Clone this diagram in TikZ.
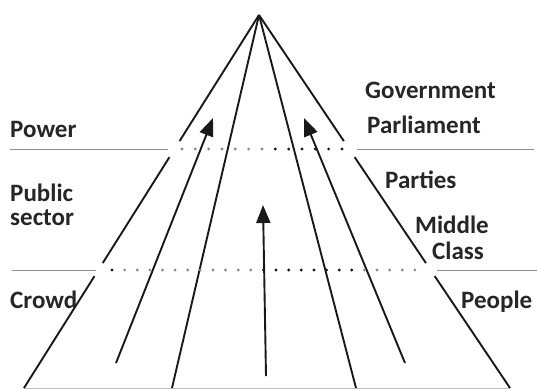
\documentclass[tikz,border=0pt]{standalone}
\usepackage{fontspec}
\setmainfont{Carlito}
\usetikzlibrary{arrows.meta,calc}

\begin{document}
\begin{tikzpicture}[x=1pt,y=-1pt,
  stroke/.style={line width=1.9pt,black!90},
  uparrow/.style={stroke,-{Triangle[length=18pt,width=14pt]}},
  levelrule/.style={line width=0.9pt,black!45},
  baserule/.style={line width=0.9pt,black!25},
  label/.style={font=\bfseries\fontsize{25}{30}\selectfont,text=black!85,
                inner sep=0pt,anchor=base west},
  dotlight/.style={fill=black!45},
  dotdark/.style={fill=black!90}]

  \useasboundingbox (0,0) rectangle (537,389);

  % pyramid frame
  \coordinate (apex) at (259,15);
  \coordinate (bl) at (24,388);
  \coordinate (br) at (510,388);
  \coordinate (il) at (172,388);
  \coordinate (ir) at (356,388);

  % base line
  \draw[baserule] (bl) -- (br);

  % outer edges, broken where the level lines cross
  \draw[stroke] (apex) -- ($(apex)!0.338!(bl)$);
  \draw[stroke] ($(apex)!0.381!(bl)$) -- ($(apex)!0.665!(bl)$);
  \draw[stroke] ($(apex)!0.700!(bl)$) -- (bl);
  \draw[stroke] (apex) -- ($(apex)!0.338!(br)$);
  \draw[stroke] ($(apex)!0.381!(br)$) -- ($(apex)!0.665!(br)$);
  \draw[stroke] ($(apex)!0.700!(br)$) -- (br);

  % inner edges
  \draw[stroke] (apex) -- (il);
  \draw[stroke] (apex) -- (ir);

  % rising arrows
  \coordinate (a1s) at (116,363);
  \coordinate (a1e) at (213,118);
  \coordinate (a2s) at (405,363);
  \coordinate (a2e) at (304,118);
  \coordinate (a3s) at (266,376);
  \coordinate (a3e) at (263,205);
  \draw[uparrow] (a1s) -- (a1e);
  \draw[uparrow] (a2s) -- (a2e);
  \draw[uparrow] (a3s) -- (a3e);

  % upper level line
  \coordinate (u1) at (10,149);
  \coordinate (u2) at (168,149);
  \coordinate (u3) at (357,149);
  \coordinate (u4) at (534,149);
  \draw[levelrule] (u1) -- (u2);
  \draw[levelrule] (u3) -- (u4);
  \foreach \i in {0,...,12}{
    \pgfmathsetmacro{\dx}{182+\i*13.33}
    \ifnum\i<7
      \fill[dotlight] (\dx,149) circle (1.6);
    \else
      \fill[dotdark] (\dx,149) circle (1.6);
    \fi
  }

  % lower level line
  \coordinate (l1) at (12,270);
  \coordinate (l2) at (96,270);
  \coordinate (l3) at (437,270);
  \coordinate (l4) at (537,270);
  \draw[levelrule] (l1) -- (l2);
  \draw[levelrule] (l3) -- (l4);
  \foreach \i in {0,...,24}{
    \pgfmathsetmacro{\dx}{112+\i*12.62}
    \pgfmathtruncatemacro{\dk}{(\i==0) || (\i>11 && \i<20) ? 1 : 0}
    \ifnum\dk=1
      \fill[dotdark] (\dx,270) circle (1.6);
    \else
      \fill[dotlight] (\dx,270) circle (1.6);
    \fi
  }

  % labels
  \node[label] (gov) at (365,98) {Government};
  \node[label] (parl) at (367,133) {Parliament};
  \node[label] (power) at (10,137) {Power};
  \node[label] (public) at (10,201) {Public};
  \node[label] (sector) at (10,225) {sector};
  \node[label] (parties) at (385,188) {Parties};
  \node[label] (middle) at (415,233) {Middle};
  \node[label] (class) at (432,259) {Class};
  \node[label] (crowd) at (10,308) {Crowd};
  \node[label] (people) at (461,308) {People};
\end{tikzpicture}
\end{document}
